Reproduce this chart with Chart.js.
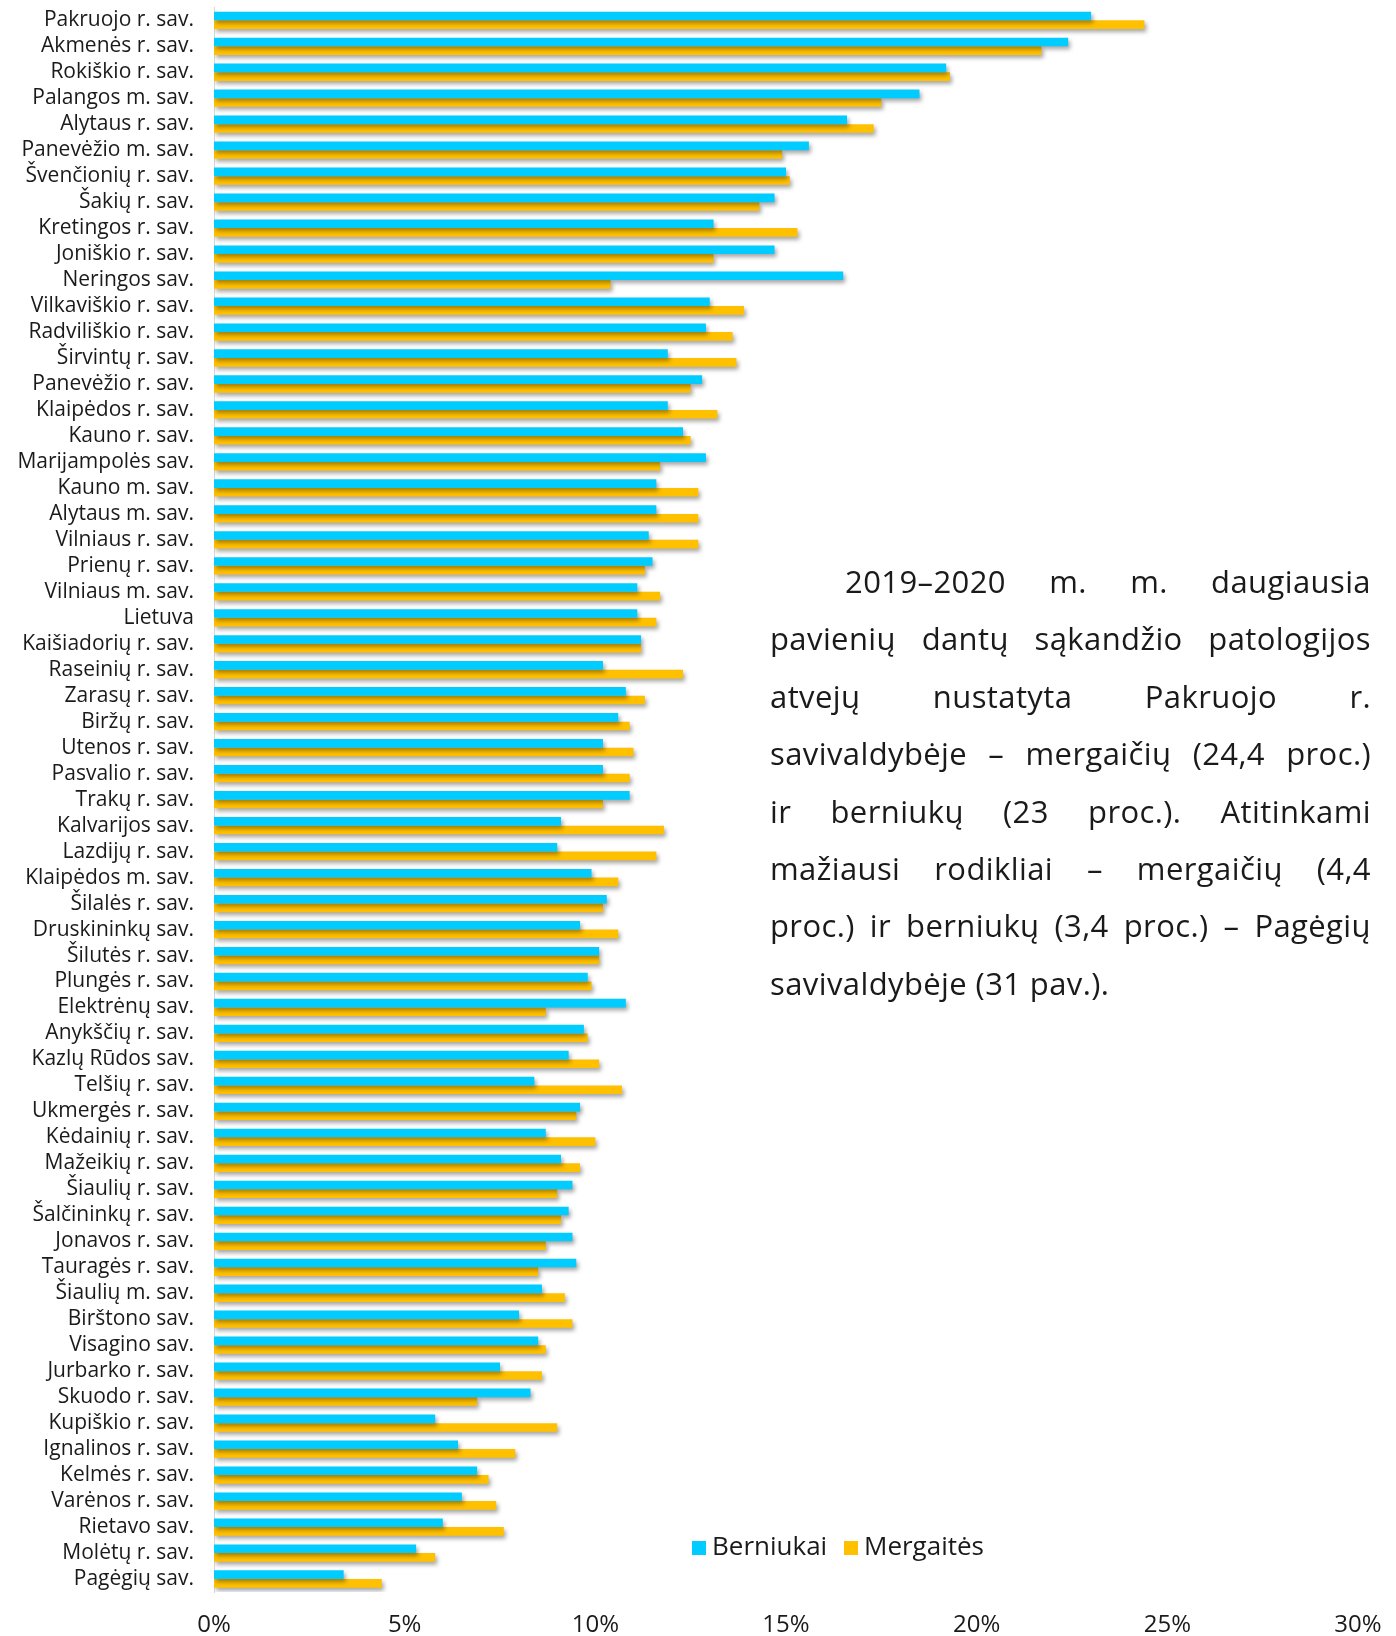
<!DOCTYPE html>
<html>
<head>
<meta charset="utf-8">
<script src="https://cdn.jsdelivr.net/npm/chart.js@4/dist/chart.umd.min.js"></script>
<style>
html,body{margin:0;padding:0;background:#fff;}
#wrap{position:relative;width:1396px;height:1636px;overflow:hidden;}
#c{position:absolute;left:0;top:0;}
#note{position:absolute;left:770px;top:553px;width:601px;font-family:'Open Sans',sans-serif;font-size:31px;letter-spacing:0.4px;color:#1a1a1a;}
#note .ln{height:57.4px;line-height:57.4px;text-align:justify;text-align-last:justify;white-space:nowrap;}
#note .ln.first{padding-left:75px;}
#note .ln.last{text-align:left;text-align-last:left;}
</style>
</head>
<body>
<div id="wrap">
<canvas id="c" width="1396" height="1636"></canvas>
<div id="note">
<div class="ln first">2019–2020 m. m. daugiausia</div>
<div class="ln">pavienių dantų sąkandžio patologijos</div>
<div class="ln">atvejų nustatyta Pakruojo r.</div>
<div class="ln">savivaldybėje – mergaičių (24,4 proc.)</div>
<div class="ln">ir berniukų (23 proc.). Atitinkami</div>
<div class="ln">mažiausi rodikliai – mergaičių (4,4</div>
<div class="ln">proc.) ir berniukų (3,4 proc.) – Pagėgių</div>
<div class="ln last">savivaldybėje (31 pav.).</div>
</div>
</div>
<script>
const categories = [
  "Pakruojo r. sav.","Akmenės r. sav.","Rokiškio r. sav.","Palangos m. sav.","Alytaus r. sav.",
  "Panevėžio m. sav.","Švenčionių r. sav.","Šakių r. sav.","Kretingos r. sav.","Joniškio r. sav.",
  "Neringos sav.","Vilkaviškio r. sav.","Radviliškio r. sav.","Širvintų r. sav.","Panevėžio r. sav.",
  "Klaipėdos r. sav.","Kauno r. sav.","Marijampolės sav.","Kauno m. sav.","Alytaus m. sav.",
  "Vilniaus r. sav.","Prienų r. sav.","Vilniaus m. sav.","Lietuva","Kaišiadorių r. sav.",
  "Raseinių r. sav.","Zarasų r. sav.","Biržų r. sav.","Utenos r. sav.","Pasvalio r. sav.",
  "Trakų r. sav.","Kalvarijos sav.","Lazdijų r. sav.","Klaipėdos m. sav.","Šilalės r. sav.",
  "Druskininkų sav.","Šilutės r. sav.","Plungės r. sav.","Elektrėnų sav.","Anykščių r. sav.",
  "Kazlų Rūdos sav.","Telšių r. sav.","Ukmergės r. sav.","Kėdainių r. sav.","Mažeikių r. sav.",
  "Šiaulių r. sav.","Šalčininkų r. sav.","Jonavos r. sav.","Tauragės r. sav.","Šiaulių m. sav.",
  "Birštono sav.","Visagino sav.","Jurbarko r. sav.","Skuodo r. sav.","Kupiškio r. sav.",
  "Ignalinos r. sav.","Kelmės r. sav.","Varėnos r. sav.","Rietavo sav.","Molėtų r. sav.",
  "Pagėgių sav."
];
const berniukai = [
  23.0,22.4,19.2,18.5,16.6,
  15.6,15.0,14.7,13.1,14.7,
  16.5,13.0,12.9,11.9,12.8,
  11.9,12.3,12.9,11.6,11.6,
  11.4,11.5,11.1,11.1,11.2,
  10.2,10.8,10.6,10.2,10.2,
  10.9,9.1,9.0,9.9,10.3,
  9.6,10.1,9.8,10.8,9.7,
  9.3,8.4,9.6,8.7,9.1,
  9.4,9.3,9.4,9.5,8.6,
  8.0,8.5,7.5,8.3,5.8,
  6.4,6.9,6.5,6.0,5.3,
  3.4
];
const mergaites = [
  24.4,21.7,19.3,17.5,17.3,
  14.9,15.1,14.3,15.3,13.1,
  10.4,13.9,13.6,13.7,12.5,
  13.2,12.5,11.7,12.7,12.7,
  12.7,11.3,11.7,11.6,11.2,
  12.3,11.3,10.9,11.0,10.9,
  10.2,11.8,11.6,10.6,10.2,
  10.6,10.1,9.9,8.7,9.8,
  10.1,10.7,9.5,10.0,9.6,
  9.0,9.1,8.7,8.5,9.2,
  9.4,8.7,8.6,6.9,9.0,
  7.9,7.2,7.4,7.6,5.8,
  4.4
];
const seriesNames = ["Berniukai","Mergaitės"];
const xMin = 0, xMax = 30, xStep = 5;

const shadowPlugin = {
  id:'barShadow',
  beforeDatasetsDraw(chart){
    const c = chart.ctx; c.save();
    c.shadowColor = 'rgba(0,0,0,0.35)';
    c.shadowBlur = 4; c.shadowOffsetX = 2; c.shadowOffsetY = 3;
  },
  afterDatasetsDraw(chart){ chart.ctx.restore(); }
};
const legendPlugin = {
  id:'customLegend',
  afterDraw(chart){
    const c = chart.ctx;
    const xs = [692, 844];
    const cy = 1548;
    c.save();
    c.font = '26px "Open Sans", sans-serif';
    c.textBaseline = 'middle';
    chart.data.datasets.forEach((ds,i)=>{
      c.fillStyle = ds.backgroundColor;
      c.fillRect(xs[i], cy-7, 14, 14);
      c.fillStyle = '#1a1a1a';
      c.fillText(ds.label, xs[i]+20, cy);
    });
    c.restore();
  }
};

new Chart(document.getElementById('c'), {
  type:'bar',
  data:{
    labels:categories,
    datasets:[
      {label:seriesNames[0], data:berniukai, backgroundColor:'#00CCFF'},
      {label:seriesNames[1], data:mergaites, backgroundColor:'#FFC000'}
    ]
  },
  options:{
    indexAxis:'y',
    responsive:false,
    animation:false,
    devicePixelRatio:1,
    layout:{padding:{top:7.3,right:38,left:0,bottom:0}},
    datasets:{bar:{categoryPercentage:0.665,barPercentage:1.0}},
    plugins:{legend:{display:false},tooltip:{enabled:false}},
    scales:{
      y:{
        grid:{display:false,drawTicks:false},
        border:{display:true,color:'#d9d9d9',width:1},
        ticks:{padding:20,autoSkip:false,color:'#1a1a1a',font:{family:'Open Sans',size:21}},
        afterFit(s){ s.width = 214; s.paddingTop = 0; s.paddingBottom = 0; }
      },
      x:{
        min:xMin,max:xMax,
        grid:{display:false,drawTicks:false},
        border:{display:false},
        ticks:{stepSize:xStep,padding:19,color:'#1a1a1a',font:{family:'Open Sans',size:24},callback:v=>v+'%'},
        afterFit(s){ s.height = 44; s.paddingLeft = 0; s.paddingRight = 0; }
      }
    }
  },
  plugins:[shadowPlugin,legendPlugin]
});
</script>
</body>
</html>
